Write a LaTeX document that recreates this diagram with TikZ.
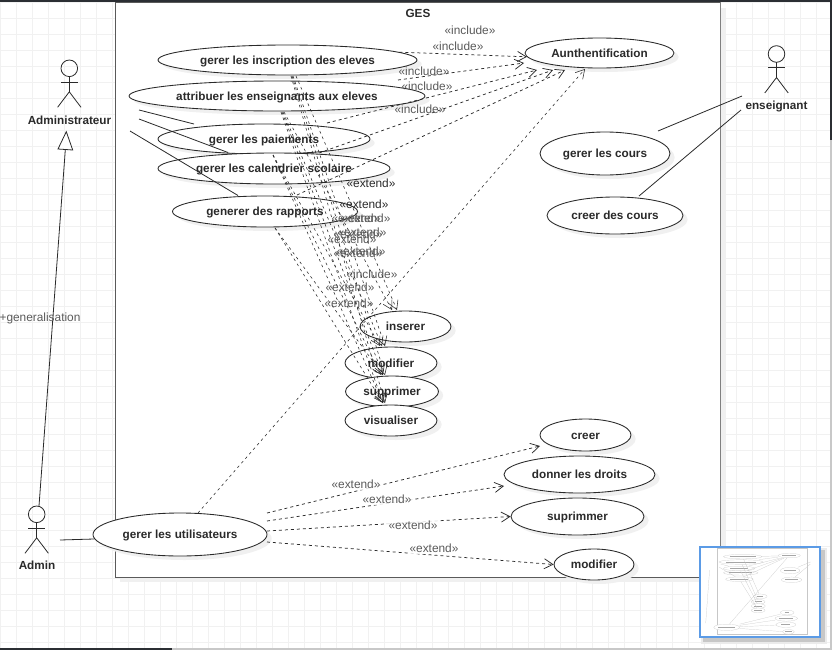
\documentclass[tikz,border=0pt]{standalone}
\usepackage{fontspec}
\setmainfont{Liberation Sans}
\usetikzlibrary{arrows.meta}
\usetikzlibrary{shapes.geometric}
\usetikzlibrary{shadows}
\definecolor{gridgrey}{HTML}{F1F1F1}
\definecolor{shadowgrey}{HTML}{F0F0F0}
\definecolor{inkgrey}{HTML}{2A2A2A}
\definecolor{labelgrey}{HTML}{5A5A5A}
\definecolor{barlight}{HTML}{C8C8C8}
\definecolor{bardark}{HTML}{2B2E33}
\definecolor{miniblue}{HTML}{5B9BE6}
\tikzset {
  % size of an ellipse, given in pixels of the reference
  ucsize/.style 2 args = {
    minimum width = #1*0.75pt,
    minimum height = #2*0.75pt
  },
  usecase/.style = {
    draw = inkgrey,
    fill = white,
    ellipse,
    inner sep = 0,
    line width = 0.65pt,
    font = \bfseries\fontsize{8.8}{11}\selectfont,
    text = inkgrey,
    text height = 8pt,
    text depth = 2pt,
    general shadow = {
      fill = shadowgrey,
      shadow xshift = 3.5pt,
      shadow yshift = -3pt
    }
  },
  actorname/.style = {
    font = \bfseries\fontsize{8.8}{11}\selectfont,
    text = inkgrey,
    text height = 8pt,
    text depth = 2pt
  },
  % stereotype text next to a connector
  stereo/.style = {
    font = \fontsize{8.9}{11}\selectfont,
    text = labelgrey,
    inner sep = 0
  },
  stereodark/.style = {
    stereo,
    text = inkgrey
  },
  stereobg/.style = {
    stereo,
    fill = white,
    fill opacity = 0.85,
    text opacity = 1,
    inner sep = 1pt
  },
  stickman/.style = {
    draw = inkgrey,
    line width = 0.6pt
  },
  assoc/.style = {
    draw = inkgrey,
    line width = 0.6pt
  },
  % dashed dependency with an open tip
  depend/.style = {
    draw = inkgrey,
    line width = 0.55pt,
    dash pattern = on 2.25pt off 2.25pt,
    -{Straight Barb[length = 6.5pt, width = 7.5pt]}
  },
  % same, for the bundle in the middle
  dependthin/.style = {
    depend,
    line width = 0.42pt,
    dash pattern = on 2pt off 2.5pt
  },
  minishape/.style = {
    draw = black!22,
    line width = 0.15pt
  }
}

\begin{document}
\begin{tikzpicture}[x=0.75pt,y=-0.75pt]
  \useasboundingbox (0,0) rectangle (832,650);

  % page grid
  \foreach \gx in {0,...,51} {
    \draw[gridgrey, line width = 0.6pt] (16*\gx+0.5,0) -- (16*\gx+0.5,650);
  }
  \foreach \gy in {0,...,40} {
    \draw[gridgrey, line width = 0.6pt] (0,16*\gy+2.5) -- (832,16*\gy+2.5);
  }

  % window edges
  \fill[bardark] (0,0) rectangle (832,2);
  \fill[bardark] (830,0) rectangle (832,140);
  \fill[barlight] (830,140) rectangle (832,650);
  \fill[barlight] (172,648) rectangle (832,650);
  \fill[bardark] (0,648) rectangle (172,650);

  % system box
  \fill[shadowgrey] (120,8) rectangle (725.5,582);
  \node[draw = labelgrey, fill = white, line width = 0.75pt, rectangle, inner sep = 0,
    minimum width = 605*0.75pt, minimum height = 575*0.75pt] (ges) at (417.5,289.5) {};
  \draw[gray, line width = 1.4pt] (ges.north east) -- (ges.south east);
  \node[actorname] (gestitle) at (418,13) {GES};

  % use cases
  \node[usecase, ucsize = {259}{30}] (inscription) at (287.5,60) {gerer les inscription des eleves};
  \node[usecase, ucsize = {296}{30}] (attribuer) at (277,96) {attribuer les enseignants aux eleves};
  \node[usecase, ucsize = {212}{30}] (paiements) at (264,139) {gerer les paiements};
  \node[usecase, ucsize = {232}{31}] (calendrier) at (274,168.5) {gerer les calendrier scolaire};
  \node[usecase, ucsize = {185}{31}] (rapports) at (265,211.5) {generer des rapports};
  \node[usecase, ucsize = {149}{30}] (auth) at (599.5,53) {Aunthentification};
  \node[usecase, ucsize = {130}{43}] (cours) at (605,153.5) {gerer les cours};
  \node[usecase, ucsize = {136}{37}] (creercours) at (615,215.5) {creer des cours};
  \node[usecase, ucsize = {91}{31}] (inserer) at (405.5,326.5) {inserer};
  \node[usecase, ucsize = {92}{32}] (modifier) at (391,363) {modifier};
  \node[usecase, ucsize = {93}{31}] (supprimer) at (392,391.5) {supprimer};
  \node[usecase, ucsize = {92}{31}] (visualiser) at (391,420.5) {visualiser};
  \node[usecase, ucsize = {91}{32}] (creer) at (585.5,435) {creer};
  \node[usecase, ucsize = {151}{37}] (droits) at (579.5,474.5) {donner les droits};
  \node[usecase, ucsize = {133}{37}] (suprimmer) at (577.5,516.5) {suprimmer};
  \node[usecase, ucsize = {80}{31}] (modifuser) at (594,564.5) {modifier};
  \node[usecase, ucsize = {174}{43}] (utilisateurs) at (180,534.5) {gerer les utilisateurs};

  % actors
  \node[actorname] (administrateur) at (69.5,120) {Administrateur};
  \node[actorname] (admin) at (37,565.5) {Admin};
  \node[actorname] (enseignant) at (776.5,105) {enseignant};
  \foreach \ax/\ay in {69.3/68.3, 36.7/514.3, 776.5/54} {
    \draw[stickman] (\ax,\ay) circle [radius = 8.3];
    \draw[stickman] (\ax,\ay+8.3) -- (\ax,\ay+23.5);
    \draw[stickman] (\ax-8.3,\ay+13.7) -- (\ax+8.3,\ay+13.7);
    \draw[stickman] (\ax-11.7,\ay+39) -- (\ax,\ay+23.5) -- (\ax+11.7,\ay+39);
  }

  % free ends of the plain associations
  \coordinate (adminA) at (139,110);
  \coordinate (adminB) at (139,119);
  \coordinate (adminC) at (130,131);
  \coordinate (paieA) at (194,124);
  \coordinate (paieB) at (228,152.5);
  \coordinate (rapA) at (238,195.5);
  \coordinate (ensA) at (742,96);
  \coordinate (ensB) at (741,110);
  \coordinate (coursA) at (658,131);
  \coordinate (creerA) at (639,196);
  \coordinate (adminD) at (60,540);
  \coordinate (adminE) at (39,506);
  \coordinate (adminF) at (65.3,150);

  \draw[assoc] (adminA) -- (paieA);
  \draw[assoc] (adminB) -- (paieB);
  \draw[assoc] (adminC) -- (rapA);
  \draw[assoc] (ensA) -- (coursA);
  \draw[assoc] (ensB) -- (creerA);
  \draw[assoc] (adminD) -- (utilisateurs.183);
  \draw[assoc] (adminE) -- (adminF);
  \draw[assoc, fill = white] (66.3,131.7) -- (58,149) -- (72.7,150) -- cycle;
  \node[stereo] (genlabel) at (40,318) {+generalisation};

  % include connectors
  \coordinate (incA) at (398,80);
  \coordinate (incB) at (327,123);
  \coordinate (incC) at (319,153);
  \coordinate (incD) at (297,195);
  \coordinate (incE) at (198,513);
  \coordinate (authA) at (524,63);
  \coordinate (authB) at (537,70);
  \coordinate (authC) at (553,70);
  \coordinate (authD) at (565,70);
  \coordinate (authE) at (585,69);

  \draw[depend] (inscription.4) -- (auth.183);
  \draw[depend] (incA) -- (authA);
  \draw[depend] (incB) -- (authB);
  \draw[depend] (incC) -- (authC);
  \draw[depend] (incD) -- (authD);
  \draw[dependthin] (incE) -- (authE);

  \node[stereo] (inc1) at (470,30) {«include»};
  \node[stereo] (inc2) at (458,46) {«include»};
  \node[stereo] (inc3) at (424,71) {«include»};
  \node[stereo] (inc4) at (427,86) {«include»};
  \node[stereo] (inc5) at (420,109) {«include»};
  \node[stereo] (inc6) at (372,274) {«include»};

  % extend connectors of the crud cases
  \coordinate (ftA) at (296,76);
  \coordinate (ftB) at (293,76);
  \coordinate (ftC) at (292,76);
  \coordinate (ftD) at (291,76);
  \coordinate (ftE) at (284,112);
  \coordinate (ftF) at (283,112);
  \coordinate (ftG) at (282,112);
  \coordinate (ftH) at (281,112);
  \coordinate (ftI) at (273,155);
  \coordinate (ftJ) at (275,228);
  \coordinate (tipA) at (397,310);
  \coordinate (tipB) at (392,310);
  \coordinate (tipC) at (385,346);
  \coordinate (tipD) at (382,346);
  \coordinate (tipE) at (380,346);
  \coordinate (tipF) at (385,375);
  \coordinate (tipG) at (383,375);
  \coordinate (tipH) at (381,375);
  \coordinate (tipI) at (385,403);
  \coordinate (tipJ) at (383,403);

  \foreach \from/\to in {ftA/tipA, ftB/tipC, ftC/tipF, ftD/tipI, ftE/tipB, ftF/tipD,
    ftG/tipG, ftH/tipJ, ftI/tipE, ftI/tipH, ftI/tipJ, ftJ/tipG, ftJ/tipJ} {
    \draw[dependthin] (\from) -- (\to);
  }

  \node[stereodark] (ext1) at (371,183) {«extend»};
  \node[stereodark] (ext2) at (364,204) {«extend»};
  \node[stereo] (ext3) at (356,218) {«extend»};
  \node[stereo] (ext4) at (366,218) {«extend»};
  \node[stereo] (ext5) at (362,232) {«extend»};
  \node[stereo] (ext6) at (358,234) {«extend»};
  \node[stereo] (ext7) at (352,239) {«extend»};
  \node[stereo] (ext8) at (361,251) {«extend»};
  \node[stereo] (ext9) at (358,253) {«extend»};
  \node[stereo] (ext10) at (350,287) {«extend»};
  \node[stereo] (ext11) at (349,303) {«extend»};

  % extend connectors of gerer les utilisateurs
  \coordinate (utA) at (267,513);
  \coordinate (utB) at (267,521);
  \coordinate (utC) at (267,531);
  \coordinate (utD) at (267,542);
  \coordinate (creerT) at (540,446);
  \coordinate (droitsT) at (504,486);

  \draw[depend] (utA) -- (creerT);
  \draw[depend] (utB) -- (droitsT);
  \draw[depend] (utC) -- (suprimmer.west);
  \draw[depend] (utD) -- (modifuser.west);

  \node[stereobg] (ext12) at (356,484) {«extend»};
  \node[stereobg] (ext13) at (387,499) {«extend»};
  \node[stereobg] (ext14) at (413,525) {«extend»};
  \node[stereobg] (ext15) at (434,548) {«extend»};

  % overview window
  \fill[black!8] (701,548) rectangle (827,644);
  \fill[black!22] (703,550) rectangle (825,642);
  \node[draw = miniblue, fill = white, line width = 0.9pt, rectangle, inner sep = 0,
    minimum width = 120*0.75pt, minimum height = 90*0.75pt] (overview) at (760,592) {};
  \begin{scope}[shift={(699.9,547.7)},scale=.149]
    \fill[black!6] (120,8) rectangle (725.5,582);
    \draw[minishape, fill = white] (115,2) rectangle (720,577);
    \foreach \cx/\cy/\cw/\ch/\tw in {287.5/60/259/30/175, 277/96/296/30/200, 264/139/212/30/120,
      274/168.5/232/31/155, 265/211.5/185/31/120, 599.5/53/149/30/95, 605/153.5/130/43/85,
      615/215.5/136/37/88, 405.5/326.5/91/31/40, 391/363/92/32/45, 392/391.5/93/31/55,
      391/420.5/92/31/55, 585.5/435/91/32/30, 579.5/474.5/151/37/95, 577.5/516.5/133/37/60,
      594/564.5/80/31/45, 180/534.5/174/43/115} {
      \draw[minishape, fill = white] (\cx,\cy) ellipse [x radius = \cw/2, y radius = \ch/2];
      \draw[black!35, line width = 0.5pt] (\cx-\tw/2,\cy) -- (\cx+\tw/2,\cy);
    }
    \foreach \mx/\my/\nx/\ny in {293/76/397/310, 283/112/385/346, 273/155/385/375, 275/228/383/403,
      198/513/585/69, 417/58/524/55, 398/80/524/63, 327/123/537/70, 319/153/553/70, 297/195/565/70,
      267/513/540/446, 267/521/504/486, 267/531/511/519, 267/542/554/563, 39/506/65/150,
      139/110/194/124, 130/131/238/195, 742/96/658/131, 741/110/639/196} {
      \draw[minishape] (\mx,\my) -- (\nx,\ny);
    }
  \end{scope}
\end{tikzpicture}
\end{document}
